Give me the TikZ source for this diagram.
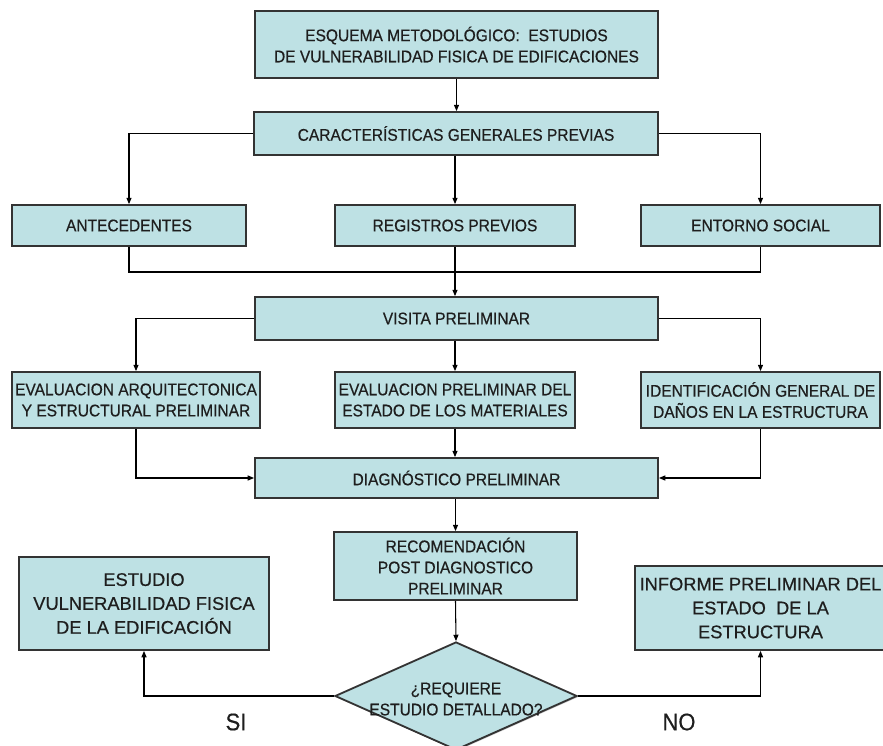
\documentclass[tikz,border=0pt]{standalone}
\usepackage{fontspec}
\setmainfont[FakeStretch=0.92,FakeBold=0.5]{Liberation Sans}
\newfontfamily\plainfont[FakeBold=0.5]{Liberation Sans}
\usetikzlibrary{shapes.geometric}
\usetikzlibrary{arrows.meta}
\usetikzlibrary{shadows}
\definecolor{boxfill}{RGB}{190,225,228}
\definecolor{boxtext}{RGB}{30,30,30}

\begin{document}
\begin{tikzpicture}[x=0.025cm,y=-0.025cm,
    box/.style={draw=black!80, line width=1.3pt, fill=boxfill, text=boxtext,
        drop shadow={shadow xshift=0.8pt, shadow yshift=-0.8pt, fill=black!50},
        align=center, inner sep=0pt, font=\fontsize{12}{15}\selectfont},
    bigbox/.style={box, font=\plainfont\fontsize{13}{17}\selectfont},
    arr/.style={-{Triangle[length=4.5pt,width=3.6pt]}, line width=0.75pt},
    conn/.style={line width=0.75pt},
    answer/.style={font=\fontsize{17}{20}\selectfont, text=boxtext}]
    \clip (0,0) rectangle (883,745);

    % Top boxes
    \node[box, minimum width=10.075cm, minimum height=1.675cm] (title) at (456.5,44.5)
        {ESQUEMA METODOL\'OGICO:\ \ ESTUDIOS\\DE VULNERABILIDAD FISICA DE EDIFICACIONES};
    \node[box, minimum width=10.1cm, minimum height=1.075cm] (caract) at (456,133.5)
        {CARACTER\'ISTICAS GENERALES PREVIAS};

    % Row 1
    \node[box, minimum width=5.85cm, minimum height=1.025cm] (antec) at (129,225.5) {ANTECEDENTES};
    \node[box, minimum width=6cm, minimum height=1.025cm] (regis) at (455,225.5) {REGISTROS PREVIOS};
    \node[box, minimum width=5.975cm, minimum height=1.025cm] (entorno) at (760.5,225.5) {ENTORNO SOCIAL};
    \coordinate (join1) at (455,272);

    \node[box, minimum width=10.075cm, minimum height=1.075cm] (visita) at (456.5,318.5) {VISITA PRELIMINAR};

    % Row 2
    \node[box, minimum width=6.2cm, minimum height=1.4cm] (evalarq) at (136,400)
        {EVALUACION ARQUITECTONICA\\Y ESTRUCTURAL PRELIMINAR};
    \node[box, minimum width=6cm, minimum height=1.4cm] (evalmat) at (455,400)
        {EVALUACION PRELIMINAR DEL\\ESTADO DE LOS MATERIALES};
    \node[box, minimum width=5.975cm, minimum height=1.4cm] (ident) at (760.5,400)
        {IDENTIFICACI\'ON GENERAL DE\\DA\~NOS EN LA ESTRUCTURA};

    \node[box, minimum width=10.075cm, minimum height=1cm] (diag) at (456.5,478) {DIAGN\'OSTICO PRELIMINAR};
    \node[box, minimum width=6.075cm, minimum height=1.7cm] (recom) at (455.5,566)
        {RECOMENDACI\'ON\\POST DIAGNOSTICO\\PRELIMINAR};

    % Decision
    \node[box, diamond, minimum width=6.05cm, minimum height=2.7cm] (dec) at (456,696) {};
    \node[align=center, text=boxtext, font=\fontsize{12}{15}\selectfont] (dectext) at (456,699)
        {?`REQUIERE\\ESTUDIO DETALLADO?};

    \node[bigbox, minimum width=6.25cm, minimum height=2.325cm] (estudio) at (144,603.5)
        {ESTUDIO\\VULNERABILIDAD FISICA\\DE LA EDIFICACI\'ON};
    \node[bigbox, minimum width=6.275cm, minimum height=2.1cm] (informe) at (760.5,608)
        {INFORME PRELIMINAR DEL\\ESTADO\ \ DE LA\\ESTRUCTURA};

    \node[answer] (si) at (236,722) {SI};
    \node[answer] (no) at (679,722) {NO};

    % Connectors
    \draw[arr] (title.south) -- (title.south |- caract.north);
    \draw[arr] (caract.west) -| (antec.north);
    \draw[arr] (caract.east) -| (entorno.north);
    \draw[arr] (regis.north |- caract.south) -- (regis.north);
    \draw[conn] (antec.south) |- (join1);
    \draw[conn] (entorno.south) |- (join1);
    \draw[arr] (regis.south) -- (regis.south |- visita.north);
    \draw[arr] (visita.west) -| (evalarq.north);
    \draw[arr] (visita.east) -| (ident.north);
    \draw[arr] (evalmat.north |- visita.south) -- (evalmat.north);
    \draw[arr] (evalarq.south) |- (diag.west);
    \draw[arr] (ident.south) |- (diag.east);
    \draw[arr] (evalmat.south) -- (evalmat.south |- diag.north);
    \draw[arr] (recom.north |- diag.south) -- (recom.north);
    \draw[arr] (recom.south) -- (dec.north);
    \draw[arr] (dec.west) -| (estudio.south);
    \draw[arr] (dec.east) -| (informe.south);
\end{tikzpicture}
\end{document}
